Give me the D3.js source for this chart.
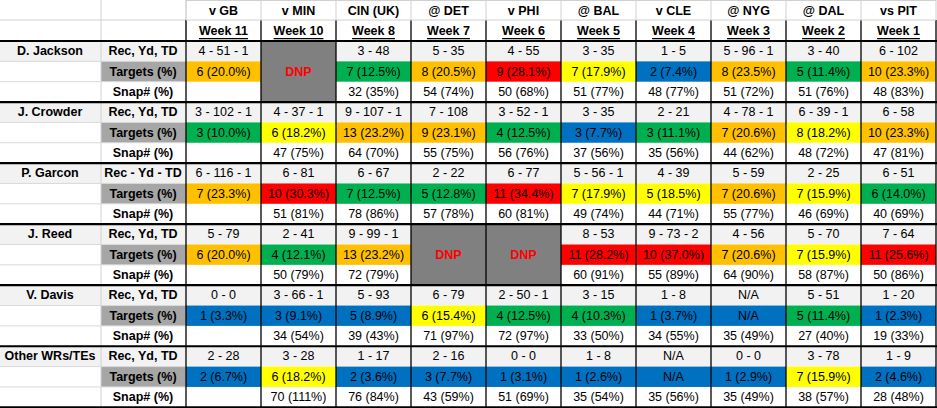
<!DOCTYPE html>
<html><head><meta charset="utf-8">
<script src="https://cdn.jsdelivr.net/npm/d3@7"></script>
<style>body{margin:0;background:#fff}svg{display:block}</style>
</head><body><svg id="chart" width="937" height="408"></svg>
<script>
// Column headers
const opponents = ['v GB','v MIN','CIN (UK)','@ DET','v PHI','@ BAL','v CLE','@ NYG','@ DAL','vs PIT'];
const weeks = ['Week 11','Week 10','Week 8','Week 7','Week 6','Week 5','Week 4','Week 3','Week 2','Week 1'];
const players = ['D. Jackson','J. Crowder','P. Garcon','J. Reed','V. Davis','Other WRs/TEs'];
const recLabels = ['Rec, Yd, TD','Rec, Yd, TD','Rec - Yd - TD','Rec, Yd, TD','Rec, Yd, TD','Rec, Yd, TD'];

// null = DNP
const recLine = [
  ['4 - 51 - 1',null,'3 - 48','5 - 35','4 - 55','3 - 35','1 - 5','5 - 96 - 1','3 - 40','6 - 102'],
  ['3 - 102 - 1','4 - 37 - 1','9 - 107 - 1','7 - 108','3 - 52 - 1','3 - 35','2 - 21','4 - 78 - 1','6 - 39 - 1','6 - 58'],
  ['6 - 116 - 1','6 - 81','6 - 67','2 - 22','6 - 77','5 - 56 - 1','4 - 39','5 - 59','2 - 25','6 - 51'],
  ['5 - 79','2 - 41','9 - 99 - 1',null,null,'8 - 53','9 - 73 - 2','4 - 56','5 - 70','7 - 64'],
  ['0 - 0','3 - 66 - 1','5 - 93','6 - 79','2 - 50 - 1','3 - 15','1 - 8','N/A','5 - 51','1 - 20'],
  ['2 - 28','3 - 28','1 - 17','2 - 16','0 - 0','1 - 8','N/A','0 - 0','3 - 78','1 - 9']
];
const targets = [
  [6,null,7,8,9,7,2,8,5,10],
  [3,6,13,9,4,3,3,7,8,10],
  [7,10,7,5,11,7,5,7,7,6],
  [6,4,13,null,null,11,10,7,7,11],
  [1,3,5,6,4,4,1,'N/A',5,1],
  [2,6,2,3,1,1,'N/A',1,7,2]
];
const targetPct = [
  [20.0,null,12.5,20.5,28.1,17.9,7.4,23.5,11.4,23.3],
  [10.0,18.2,23.2,23.1,12.5,7.7,11.1,20.6,18.2,23.3],
  [23.3,30.3,12.5,12.8,34.4,17.9,18.5,20.6,15.9,14.0],
  [20.0,12.1,23.2,null,null,28.2,37.0,20.6,15.9,25.6],
  [3.3,9.1,8.9,15.4,12.5,10.3,3.7,0,11.4,2.3],
  [6.7,18.2,3.6,7.7,3.1,2.6,0,2.9,15.9,4.6]
];
const snaps = [
  ['',null,'32 (35%)','54 (74%)','50 (68%)','51 (77%)','48 (77%)','51 (72%)','51 (76%)','48 (83%)'],
  ['','47 (75%)','64 (70%)','55 (75%)','56 (76%)','37 (56%)','35 (56%)','44 (62%)','48 (72%)','47 (81%)'],
  ['','51 (81%)','78 (86%)','57 (78%)','60 (81%)','49 (74%)','44 (71%)','55 (77%)','46 (69%)','40 (69%)'],
  ['','50 (79%)','72 (79%)',null,null,'60 (91%)','55 (89%)','64 (90%)','58 (87%)','50 (86%)'],
  ['','34 (54%)','39 (43%)','71 (97%)','72 (97%)','33 (50%)','34 (55%)','35 (49%)','27 (40%)','19 (33%)'],
  ['','70 (111%)','76 (84%)','43 (59%)','51 (69%)','35 (54%)','35 (56%)','35 (49%)','38 (57%)','28 (48%)']
];

const svg = d3.select('#chart');
const font = '"Liberation Sans", Arial, sans-serif';
const x = d3.scaleBand().domain(d3.range(10)).range([186, 936]);
const rowH = 20.35, topY = 41;
const yRow = i => topY + i * rowH;
const color = d3.scaleThreshold().domain([10, 15, 20, 25])
  .range(['#0070c0','#00b050','#ffff00','#ffc000','#ff0000']);

function txt(xp, yp, s, opts = {}) {
  return svg.append('text').attr('x', xp).attr('y', yp).attr('text-anchor', opts.anchor || 'middle')
    .attr('dominant-baseline', 'central').attr('font-family', font).attr('font-size', 12.5)
    .attr('font-weight', opts.bold ? 'bold' : 'normal').attr('fill', opts.fill || '#000')
    .attr('text-decoration', opts.underline ? 'underline' : null).text(s);
}

// Header
opponents.forEach((o, j) => txt(x(j) + x.bandwidth() / 2, 10.5, o, {bold: true}));
weeks.forEach((w, j) => txt(x(j) + x.bandwidth() / 2, 31, w, {bold: true, underline: true}));

players.forEach((p, i) => {
  const y0 = yRow(i * 3);
  // backgrounds
  svg.append('rect').attr('x', 0).attr('y', y0).attr('width', 936).attr('height', rowH).attr('fill', '#f2f2f2');
  svg.append('rect').attr('x', 101).attr('y', y0 + rowH).attr('width', 85).attr('height', rowH).attr('fill', '#a6a6a6');
  txt(50, y0 + rowH / 2, p, {bold: true});
  txt(143, y0 + rowH / 2, recLabels[i], {bold: true});
  txt(143, y0 + rowH * 1.5, 'Targets (%)', {bold: true});
  txt(143, y0 + rowH * 2.5, 'Snap# (%)', {bold: true});
  d3.range(10).forEach(j => {
    const cx = x(j) + x.bandwidth() / 2;
    if (recLine[i][j] === null) {
      svg.append('rect').attr('x', x(j)).attr('y', y0).attr('width', x.bandwidth()).attr('height', rowH * 3).attr('fill', '#808080');
      txt(cx, y0 + rowH * 1.5, 'DNP', {bold: true, fill: '#ff0000'});
      return;
    }
    const t = targets[i][j];
    const na = t === 'N/A';
    svg.append('rect').attr('x', x(j)).attr('y', y0 + rowH).attr('width', x.bandwidth()).attr('height', rowH)
      .attr('fill', na ? '#0070c0' : color(targetPct[i][j]));
    txt(cx, y0 + rowH / 2, recLine[i][j]);
    txt(cx, y0 + rowH * 1.5, na ? 'N/A' : `${t} (${targetPct[i][j].toFixed(1)}%)`);
    txt(cx, y0 + rowH * 2.5, snaps[i][j]);
  });
});

// light grid in label area
const bottom = yRow(18);
[[101, 0, 101, bottom], [186, 0, 186, 41], [0, 20, 186, 20]].forEach(l =>
  svg.append('line').attr('x1', l[0]).attr('y1', l[1]).attr('x2', l[2]).attr('y2', l[3]).attr('stroke', '#d0d0d0'));
d3.range(18).forEach(r => {
  if (r % 3 === 0) return;
  svg.append('line').attr('x1', 0).attr('x2', 186).attr('y1', yRow(r)).attr('y2', yRow(r)).attr('stroke', '#d9d9d9');
});
d3.range(11).forEach(j => {
  const xp = j === 10 ? 936 : x(j);
  svg.append('line').attr('x1', xp).attr('x2', xp).attr('y1', 0).attr('y2', 20).attr('stroke', '#d0d0d0');
  svg.append('line').attr('x1', xp).attr('x2', xp).attr('y1', 20).attr('y2', bottom).attr('stroke', '#000').attr('stroke-width', 1.3);
});
svg.append('line').attr('x1', 186).attr('x2', 936).attr('y1', 0.5).attr('y2', 0.5).attr('stroke', '#d0d0d0');
svg.append('line').attr('x1', 186).attr('x2', 936).attr('y1', 20).attr('y2', 20).attr('stroke', '#d0d0d0');
d3.range(7).forEach(g => {
  svg.append('line').attr('x1', 0).attr('x2', 937).attr('y1', yRow(g * 3)).attr('y2', yRow(g * 3))
    .attr('stroke', '#000').attr('stroke-width', 2.2);
});
</script>
</body></html>
